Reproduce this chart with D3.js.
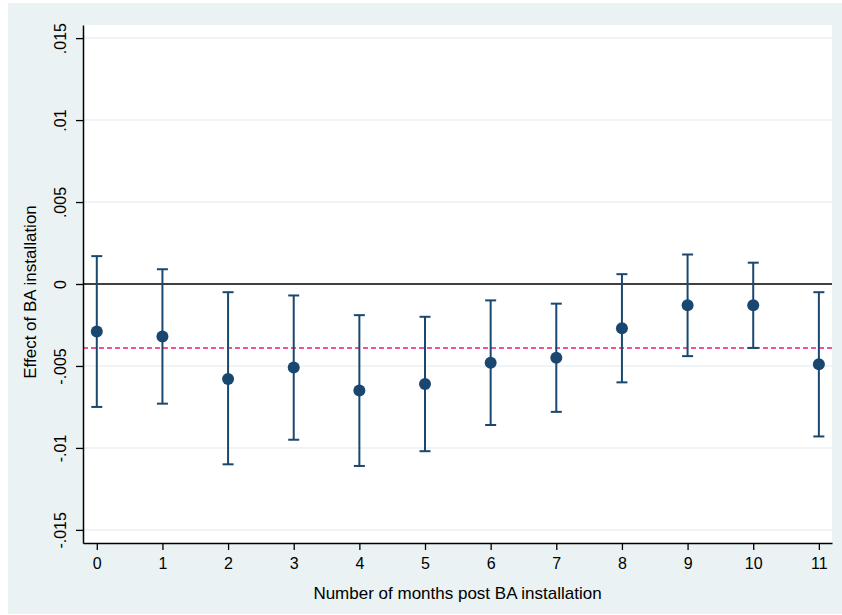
<!DOCTYPE html>
<html>
<head>
<meta charset="utf-8">
<script src="https://cdn.jsdelivr.net/npm/d3@7"></script>
<style>
  html, body { margin: 0; padding: 0; background: #ffffff; }
  svg { display: block; }
  text { font-family: "Liberation Sans", Arial, Helvetica, sans-serif; fill: #000; }
</style>
</head>
<body>
<svg id="chart" width="842" height="615"></svg>
<script>
// Months since installation and the estimated effect with its 95% CI
const months = [0, 1, 2, 3, 4, 5, 6, 7, 8, 9, 10, 11];
const estimates = [-0.0029, -0.0032, -0.0058, -0.0051, -0.0065, -0.0061, -0.0048, -0.0045, -0.0027, -0.0013, -0.0013, -0.0049];
const ciLower = [-0.0075, -0.0073, -0.0110, -0.0095, -0.0111, -0.0102, -0.0086, -0.0078, -0.0060, -0.0044, -0.0039, -0.0093];
const ciUpper = [0.0017, 0.0009, -0.0005, -0.0007, -0.0019, -0.0020, -0.0010, -0.0012, 0.0006, 0.0018, 0.0013, -0.0005];
// Average effect across all months (reference line)
const meanEffect = -0.0039;

const yTicks = [-0.015, -0.01, -0.005, 0, 0.005, 0.01, 0.015];
const yTickLabels = ["-.015", "-.01", "-.005", "0", ".005", ".01", ".015"];
const xTicks = months;

const svg = d3.select("#chart");
const W = 842, H = 615;
const plot = { left: 83, right: 832, top: 25, bottom: 543 };

const navy = "#1a476f";
const bg = "#eaf2f3";
const tickFont = 16;
const titleFont = 17;

// Outer graph region
svg.append("rect")
  .attr("x", 8).attr("y", 3)
  .attr("width", W - 8).attr("height", H - 4)
  .attr("fill", bg);

// Plot region
svg.append("rect")
  .attr("x", plot.left).attr("y", plot.top)
  .attr("width", plot.right - plot.left).attr("height", plot.bottom - plot.top)
  .attr("fill", "#ffffff");

const x = d3.scaleLinear().domain([-0.21, 11.2]).range([plot.left, plot.right]);
const y = d3.scaleLinear().domain([-0.0158, 0.0158]).range([plot.bottom, plot.top]);

// Horizontal gridlines
svg.append("g")
  .selectAll("line")
  .data(yTicks.filter(d => d !== 0))
  .join("line")
  .attr("x1", plot.left).attr("x2", plot.right)
  .attr("y1", d => y(d)).attr("y2", d => y(d))
  .attr("stroke", bg).attr("stroke-width", 1.5);

// Zero line
svg.append("line")
  .attr("x1", plot.left).attr("x2", plot.right)
  .attr("y1", y(0)).attr("y2", y(0))
  .attr("stroke", "#000").attr("stroke-width", 1.6);

// Mean effect line
svg.append("line")
  .attr("x1", plot.left).attr("x2", plot.right)
  .attr("y1", y(meanEffect)).attr("y2", y(meanEffect))
  .attr("stroke", "#ee1a7a").attr("stroke-width", 1.6)
  .attr("stroke-dasharray", "5,3");

// Y axis
const yAxis = d3.axisLeft(y)
  .tickValues(yTicks)
  .tickFormat((d, i) => yTickLabels[i])
  .tickSize(7)
  .tickSizeOuter(0);
const gy = svg.append("g").attr("transform", `translate(${plot.left},0)`).call(yAxis);
gy.attr("font-size", tickFont).attr("font-family", null);
gy.select(".domain").attr("stroke", "#000").attr("stroke-width", 1.5);
gy.selectAll(".tick line").attr("stroke", "#000").attr("stroke-width", 1.3);
gy.selectAll(".tick text")
  .attr("text-anchor", "middle")
  .attr("x", null).attr("dy", null)
  .attr("transform", "translate(-17,0) rotate(-90)")
  .attr("y", 0);

// X axis
const xAxis = d3.axisBottom(x)
  .tickValues(xTicks)
  .tickFormat(d3.format("d"))
  .tickSize(7)
  .tickSizeOuter(0);
const gx = svg.append("g").attr("transform", `translate(0,${plot.bottom})`).call(xAxis);
gx.attr("font-size", tickFont).attr("font-family", null);
gx.select(".domain").attr("stroke", "#000").attr("stroke-width", 1.5);
gx.selectAll(".tick line").attr("stroke", "#000").attr("stroke-width", 1.3);
gx.selectAll(".tick text")
  .attr("y", 25.5).attr("dy", null);

// Confidence intervals
const rows = months.map((m, i) => ({ m, est: estimates[i], lo: ciLower[i], hi: ciUpper[i] }));
const capHalf = 5.5;
const ci = svg.append("g").attr("stroke", navy).attr("stroke-width", 2).attr("fill", "none");
ci.selectAll("line.stem").data(rows).join("line").attr("class", "stem")
  .attr("x1", d => x(d.m)).attr("x2", d => x(d.m))
  .attr("y1", d => y(d.lo)).attr("y2", d => y(d.hi));
ci.selectAll("line.capHi").data(rows).join("line").attr("class", "capHi")
  .attr("x1", d => x(d.m) - capHalf).attr("x2", d => x(d.m) + capHalf)
  .attr("y1", d => y(d.hi)).attr("y2", d => y(d.hi));
ci.selectAll("line.capLo").data(rows).join("line").attr("class", "capLo")
  .attr("x1", d => x(d.m) - capHalf).attr("x2", d => x(d.m) + capHalf)
  .attr("y1", d => y(d.lo)).attr("y2", d => y(d.lo));

// Point estimates
svg.append("g").selectAll("circle").data(rows).join("circle")
  .attr("cx", d => x(d.m)).attr("cy", d => y(d.est))
  .attr("r", 6)
  .attr("fill", navy);

// Axis titles
svg.append("text")
  .attr("x", (plot.left + plot.right) / 2).attr("y", 599)
  .attr("text-anchor", "middle")
  .attr("font-size", titleFont)
  .text("Number of months post BA installation");

svg.append("text")
  .attr("transform", "translate(36,292) rotate(-90)")
  .attr("text-anchor", "middle")
  .attr("font-size", titleFont)
  .text("Effect of BA installation");
</script>
</body>
</html>
